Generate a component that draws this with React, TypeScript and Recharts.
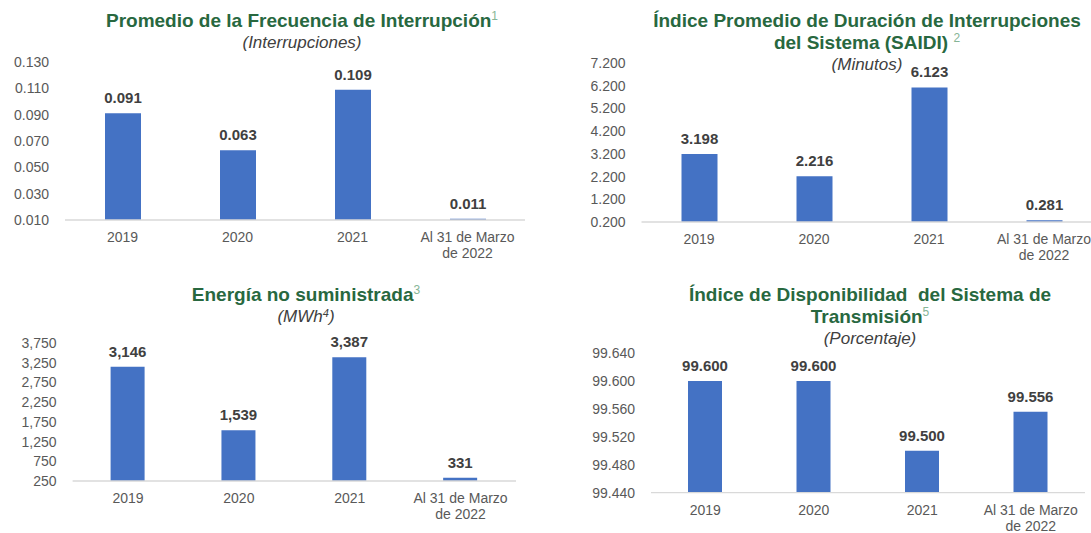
import React from 'react';
import { BarChart, Bar, XAxis, YAxis, LabelList } from 'recharts';

const categories = ['2019', '2020', '2021', 'Al 31 de Marzo\nde 2022'];
const freqValues = [0.091, 0.063, 0.109, 0.011];
const saidiValues = [3.198, 2.216, 6.123, 0.281];
const ensValues = [3146, 1539, 3387, 331];
const dispValues = [99.6, 99.6, 99.5, 99.556];

const freqTicks = [0.01, 0.03, 0.05, 0.07, 0.09, 0.11, 0.13];
const saidiTicks = [0.2, 1.2, 2.2, 3.2, 4.2, 5.2, 6.2, 7.2];
const ensTicks = [250, 750, 1250, 1750, 2250, 2750, 3250, 3750];
const dispTicks = [99.44, 99.48, 99.52, 99.56, 99.6, 99.64];

const FONT = '"Liberation Sans", Arial, Helvetica, sans-serif';
const GREEN = '#28683f';
const SUP = '#86b596';
const BLUE = '#4472C4';

const build = (vals: number[]) => categories.map((c, i) => ({ label: c, value: vals[i] }));

const fix3 = (v: any) => Number(v).toFixed(3);
const comma = (v: any) => Math.round(Number(v)).toLocaleString('en-US');

const CatTick = (props: any) => {
  const { x, y, payload } = props;
  const lines = String(payload.value).split('\n');
  return (
    <text x={x} y={y} textAnchor="middle" fill="#595959" fontSize={14} fontFamily={FONT}>
      {lines.map((l, i) => (
        <tspan key={i} x={x} dy={i === 0 ? '0.71em' : 16}>
          {l}
        </tspan>
      ))}
    </text>
  );
};

type PanelProps = {
  left: number;
  top: number;
  width: number;
  height: number;
  yWidth: number;
  margin: { top: number; right: number; bottom: number; left: number };
  values: number[];
  ticks: number[];
  fmt: (v: any) => string;
  barSize: number;
};

const Panel = (p: PanelProps) => (
  <div style={{ position: 'absolute', left: p.left, top: p.top }}>
    <BarChart width={p.width} height={p.height} data={build(p.values)} margin={p.margin}>
      <XAxis
        dataKey="label"
        interval={0}
        tickLine={false}
        tickSize={0}
        tickMargin={12}
        height={30}
        axisLine={{ stroke: '#d9d9d9', strokeWidth: 1.3 }}
        tick={<CatTick />}
      />
      <YAxis
        width={p.yWidth}
        domain={[p.ticks[0], p.ticks[p.ticks.length - 1]]}
        ticks={p.ticks}
        interval={0}
        allowDataOverflow
        axisLine={false}
        tickLine={false}
        tickSize={0}
        tickMargin={16}
        tickFormatter={p.fmt}
        tick={{ fill: '#595959', fontSize: 14, fontFamily: FONT }}
      />
      <Bar dataKey="value" fill={BLUE} barSize={p.barSize} isAnimationActive={false}>
        <LabelList
          dataKey="value"
          position="top"
          offset={10}
          formatter={p.fmt}
          fill="#404040"
          fontSize={15}
          fontWeight={700}
          fontFamily={FONT}
        />
      </Bar>
    </BarChart>
  </div>
);

const titleStyle: React.CSSProperties = {
  color: GREEN,
  fontWeight: 700,
  fontSize: 19,
  lineHeight: '22px',
  whiteSpace: 'nowrap',
};
const subStyle: React.CSSProperties = {
  color: '#404040',
  fontStyle: 'italic',
  fontSize: 17,
  lineHeight: '22px',
  whiteSpace: 'nowrap',
};
const supStyle: React.CSSProperties = {
  color: SUP,
  fontWeight: 400,
  fontSize: 12,
  verticalAlign: 'top',
  lineHeight: '14px',
  position: 'relative',
  top: -1,
};

const TitleBlock = ({ cx, top, children }: { cx: number; top: number; children: React.ReactNode }) => (
  <div
    style={{
      position: 'absolute',
      left: cx - 300,
      width: 600,
      top,
      textAlign: 'center',
      fontFamily: FONT,
    }}
  >
    {children}
  </div>
);

export default function App() {
  return (
    <div
      style={{
        position: 'fixed',
        left: 0,
        top: 0,
        width: 1091,
        height: 533,
        overflow: 'hidden',
        background: '#ffffff',
        fontFamily: FONT,
      }}
    >
      <Panel
        left={0}
        top={0}
        width={545}
        height={270}
        yWidth={65}
        margin={{ top: 62, right: 20, bottom: 20, left: 0 }}
        values={freqValues}
        ticks={freqTicks}
        fmt={fix3}
        barSize={36}
      />
      <Panel
        left={545}
        top={0}
        width={560}
        height={270}
        yWidth={96.5}
        margin={{ top: 63, right: 3.5, bottom: 18, left: 0 }}
        values={saidiValues}
        ticks={saidiTicks}
        fmt={fix3}
        barSize={36}
      />
      <Panel
        left={0}
        top={270}
        width={545}
        height={263}
        yWidth={72.6}
        margin={{ top: 73, right: 29, bottom: 22, left: 0 }}
        values={ensValues}
        ticks={ensTicks}
        fmt={comma}
        barSize={34}
      />
      <Panel
        left={545}
        top={270}
        width={546}
        height={263}
        yWidth={106}
        margin={{ top: 83, right: 6, bottom: 10.3, left: 0 }}
        values={dispValues}
        ticks={dispTicks}
        fmt={fix3}
        barSize={34}
      />

      <TitleBlock cx={302} top={10}>
        <div style={titleStyle}>
          Promedio de la Frecuencia de Interrupción<span style={supStyle}>1</span>
        </div>
        <div style={subStyle}>(Interrupciones)</div>
      </TitleBlock>

      <TitleBlock cx={867} top={10}>
        <div style={titleStyle}>Índice Promedio de Duración de Interrupciones</div>
        <div style={titleStyle}>
          del Sistema (SAIDI) <span style={supStyle}>2</span>
        </div>
        <div style={subStyle}>(Minutos)</div>
      </TitleBlock>

      <TitleBlock cx={306} top={284}>
        <div style={titleStyle}>
          Energía no suministrada<span style={supStyle}>3</span>
        </div>
        <div style={subStyle}>
          (MWh<span style={{ fontSize: 11, verticalAlign: 'top', lineHeight: '14px' }}>4</span>)
        </div>
      </TitleBlock>

      <TitleBlock cx={870} top={284}>
        <div style={titleStyle}>Índice de Disponibilidad&nbsp; del Sistema de</div>
        <div style={titleStyle}>
          Transmisión<span style={supStyle}>5</span>
        </div>
        <div style={subStyle}>(Porcentaje)</div>
      </TitleBlock>
    </div>
  );
}
